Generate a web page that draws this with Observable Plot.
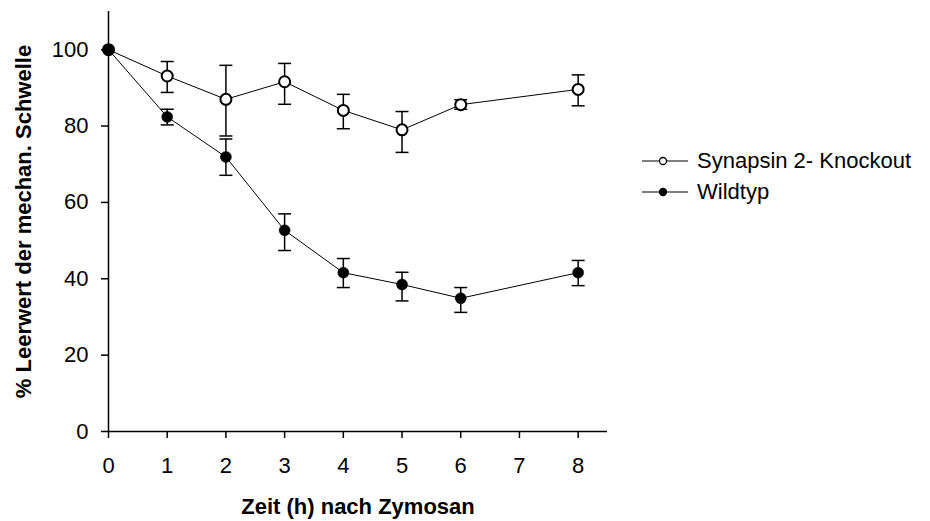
<!DOCTYPE html>
<html>
<head>
<meta charset="utf-8">
<script src="https://cdn.jsdelivr.net/npm/d3@7"></script>
<script src="https://cdn.jsdelivr.net/npm/@observablehq/plot@0.6"></script>
<style>
  html, body { margin: 0; padding: 0; background: #fff; }
  #wrap { position: relative; width: 930px; height: 521px; font-family: "Liberation Sans", Arial, sans-serif; }
  #legend { position: absolute; left: 641px; top: 145px; font-size: 22px; color: #000; }
  .item { display: flex; align-items: center; height: 31.5px; white-space: nowrap; }
  .item svg { margin-right: 8px; }
</style>
</head>
<body>
<div id="wrap"></div>
<script>
const hours = [0, 1, 2, 3, 4, 5, 6, 8];
const xTicks = [0, 1, 2, 3, 4, 5, 6, 7, 8];
const yTicks = [0, 20, 40, 60, 80, 100];

const seriesNames = ["Synapsin 2- Knockout", "Wildtyp"];
const knockout     = [100, 93.1, 87.0, 91.6, 84.1, 79.0, 85.6, 89.6];
const knockoutLow  = [null, 88.8, 77.4, 85.7, 79.3, 73.1, 84.4, 85.3];
const knockoutHigh = [null, 96.9, 95.9, 96.4, 88.3, 83.8, 86.9, 93.4];
const wild         = [100, 82.4, 71.9, 52.7, 41.6, 38.5, 34.9, 41.6];
const wildLow      = [null, 80.3, 67.1, 47.4, 37.7, 34.2, 31.2, 38.2];
const wildHigh     = [null, 84.4, 76.6, 57.0, 45.3, 41.7, 37.7, 44.8];

const xTitle = "Zeit (h) nach Zymosan";
const yTitle = "% Leerwert der mechan. Schwelle";

const rows = [];
hours.forEach((h, i) => {
  rows.push({series: seriesNames[0], x: h, y: knockout[i], lo: knockoutLow[i], hi: knockoutHigh[i]});
  rows.push({series: seriesNames[1], x: h, y: wild[i], lo: wildLow[i], hi: wildHigh[i]});
});
const errRows = rows.filter(d => d.lo != null);

const cap = {draw(ctx, size) { const w = Math.sqrt(size); ctx.moveTo(-w / 2, 0); ctx.lineTo(w / 2, 0); }};
const capR = 13 / Math.sqrt(Math.PI);

const font = '"Liberation Sans", Arial, sans-serif';

const chart = Plot.plot({
  width: 930,
  height: 521,
  marginTop: 11,
  marginBottom: 90,
  marginLeft: 108,
  marginRight: 323,
  style: {fontFamily: font, fontSize: "22px", color: "#000", background: "#fff"},
  x: {domain: [0, 8.5], ticks: xTicks},
  y: {domain: [0, 110], ticks: yTicks},
  marks: [
    Plot.axisX({ticks: xTicks, tickSize: 7, tickPadding: 19, tickFormat: d => String(d), strokeWidth: 1.5,
      label: xTitle, labelArrow: "none", labelAnchor: "center", labelOffset: 82, fontSize: 22}),
    Plot.axisY({ticks: yTicks, tickSize: 7, tickPadding: 13, tickFormat: d => String(d), strokeWidth: 1.5,
      label: yTitle, labelArrow: "none", labelAnchor: "center", labelOffset: 93, fontSize: 22}),
    Plot.ruleX([0], {stroke: "#000", strokeWidth: 1.5}),
    Plot.ruleY([0], {stroke: "#000", strokeWidth: 1.5}),
    Plot.line(rows, {x: "x", y: "y", z: "series", stroke: "#000", strokeWidth: 1}),
    Plot.ruleX(errRows, {x: "x", y1: "lo", y2: "hi", stroke: "#000", strokeWidth: 1.5}),
    Plot.dot(errRows, {x: "x", y: "lo", symbol: cap, r: capR, stroke: "#000", strokeWidth: 1.5, fill: "none"}),
    Plot.dot(errRows, {x: "x", y: "hi", symbol: cap, r: capR, stroke: "#000", strokeWidth: 1.5, fill: "none"}),
    Plot.dot(rows.filter(d => d.series === seriesNames[0]), {x: "x", y: "y", r: 5.5, fill: "#fff", stroke: "#000", strokeWidth: 2}),
    Plot.dot(rows.filter(d => d.series === seriesNames[1]), {x: "x", y: "y", r: 5.5, fill: "#000", stroke: "#000", strokeWidth: 0.5})
  ]
});
chart.querySelectorAll('g[aria-label="x-axis label"] text, g[aria-label="y-axis label"] text').forEach(t => {
  t.setAttribute("font-weight", "bold");
  t.textContent = t.textContent.replace(/\s*[→←↑↓]\s*/g, "");
});
const wrap = document.getElementById("wrap");
wrap.appendChild(chart);

const legend = document.createElement("div");
legend.id = "legend";
const fills = ["#fff", "#000"];
seriesNames.forEach((name, i) => {
  const item = document.createElement("div");
  item.className = "item";
  item.innerHTML = `<svg width="48" height="12"><line x1="1" x2="47" y1="6" y2="6" stroke="#000" stroke-width="1.2"/><circle cx="22" cy="6" r="3.5" fill="${fills[i]}" stroke="#000" stroke-width="1.3"/></svg><span>${name}</span>`;
  legend.appendChild(item);
});
wrap.appendChild(legend);
</script>
</body>
</html>
